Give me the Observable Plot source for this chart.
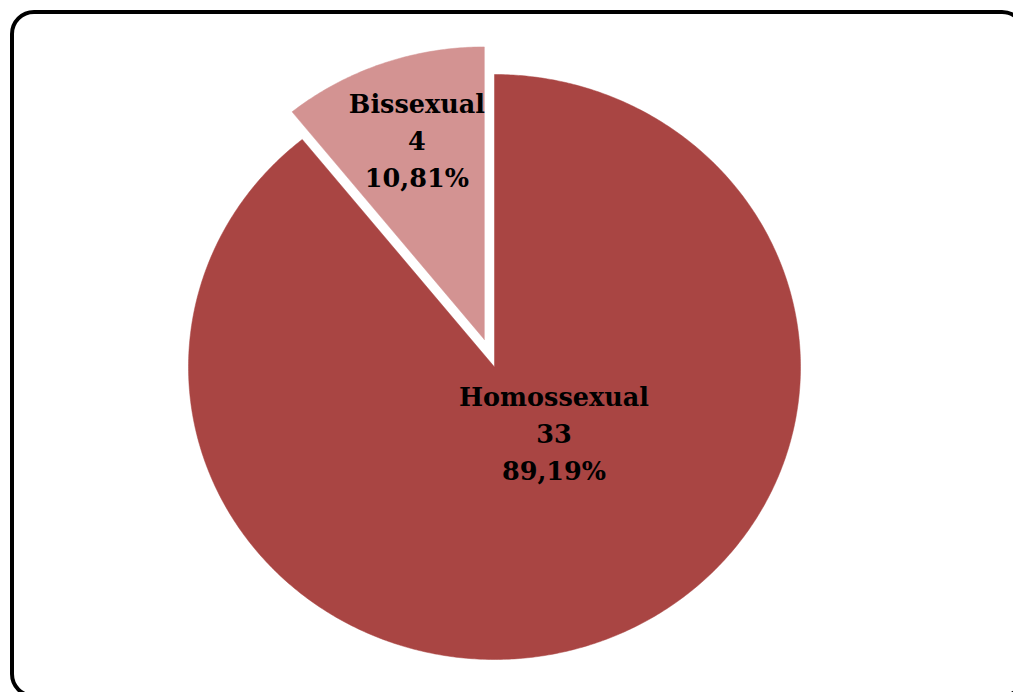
<!DOCTYPE html>
<html><head><meta charset="utf-8">
<script src="https://cdn.jsdelivr.net/npm/d3@7"></script>
<script src="https://cdn.jsdelivr.net/npm/@observablehq/plot@0.6"></script>
<style>
html,body{margin:0;padding:0;overflow:hidden;background:#fff}
#wrap{position:relative;width:1013px;height:692px;overflow:hidden}
#chart svg{overflow:hidden;display:block}
#border{position:absolute;left:9.75px;top:9.5px;width:1016px;height:688px;box-sizing:border-box;
  border:4.5px solid #000;border-radius:24px;pointer-events:none}
</style>
</head><body><div id="wrap"><div id="chart"></div><div id="border"></div></div>
<script>
// Data
const categories = ["Homossexual", "Bissexual"];
const counts = [33, 4];
const percentLabels = ["89,19%", "10,81%"];
const colors = ["#A94543", "#D39392"];
const explode = [0, 0.1];
const labelRadius = [0.25, 0.72];
const labelDx = [34, 6];
const labelDy = [-5, -3];

const total = d3.sum(counts);
let acc = 0;
const slices = categories.map((c, i) => {
  const a0 = acc / total * 2 * Math.PI; acc += counts[i];
  const a1 = acc / total * 2 * Math.PI;
  const mid = (a0 + a1) / 2;
  const ox = explode[i] * Math.sin(mid), oy = explode[i] * Math.cos(mid);
  return {
    c, i, a0, a1, mid, ox, oy,
    lx: ox + labelRadius[i] * Math.sin(mid),
    ly: oy + labelRadius[i] * Math.cos(mid),
    label: `${c}\n${counts[i]}\n${percentLabels[i]}`
  };
});
const pts = [];
for (const s of slices) {
  pts.push({c: s.c, x: s.ox, y: s.oy});
  const n = Math.max(2, Math.ceil((s.a1 - s.a0) / (Math.PI / 360)));
  for (let k = 0; k <= n; k++) {
    const a = s.a0 + (s.a1 - s.a0) * k / n;
    pts.push({c: s.c, x: s.ox + Math.sin(a), y: s.oy + Math.cos(a)});
  }
  pts.push({c: s.c, x: s.ox, y: s.oy});
}

const chart = Plot.plot({
  width: 1013,
  height: 692,
  margin: 0,
  style: {background: "#fff"},
  x: {domain: [-1, 1], range: [188, 800], axis: null},
  y: {domain: [-1, 1], range: [659, 74], axis: null},
  color: {domain: categories, range: colors},
  marks: [
    Plot.line(pts, {x: "x", y: "y", z: "c", fill: "c", stroke: "c", strokeWidth: 0.5, curve: "linear"}),
    ...slices.map((s, i) => Plot.text([s], {
      x: "lx", y: "ly", dx: labelDx[i], dy: labelDy[i], text: "label",
      fontFamily: "DejaVu Serif", fontWeight: "bold", fontSize: 25.5,
      lineHeight: 1.45, lineAnchor: "middle", textAnchor: "middle", fill: "#000"
    }))
  ]
});
document.getElementById("chart").appendChild(chart);
</script>
</body></html>
